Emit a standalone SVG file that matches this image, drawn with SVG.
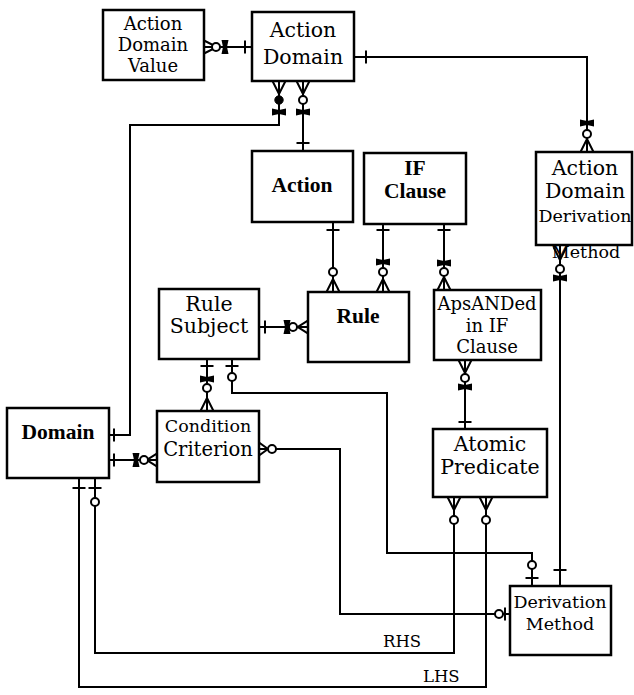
<svg xmlns="http://www.w3.org/2000/svg" xmlns:xlink="http://www.w3.org/1999/xlink" width="634" height="695" viewBox="0 0 634 695">
<style>
.box{fill:#fff;stroke:#000;stroke-width:2.5}
.ln{fill:none;stroke:#000;stroke-width:2}
.t{font-family:"DejaVu Serif","Liberation Serif",serif;font-size:20.5px;fill:#000;text-anchor:middle}
.s{font-size:17.5px}
.v{font-size:18px}
.b{font-family:"Liberation Serif",serif;font-weight:bold;font-size:21.5px;fill:#000;text-anchor:middle}
.lbl{font-family:"DejaVu Serif",serif;font-size:16.5px;fill:#000}
</style>
<defs>
<path id="crow" class="ln" d="M0,-6.5 L13,0 L0,6.5 M0,0 L13,0"/>
<path id="bar" class="ln" d="M0,-6.5 V6.5"/>
<circle id="circ" r="4" fill="#fff" stroke="#000" stroke-width="2"/>
<circle id="circf" r="4.2" fill="#000" stroke="#000" stroke-width="1"/>
<path id="bow" fill="#000" d="M-3.5,-7 L3.5,-7 L2,0 L3.5,7 L-3.5,7 L-2,0 Z"/>
</defs>

<g id="connectors">
<!-- ADV - AD -->
<path class="ln" d="M204,47 H252"/>
<use xlink:href="#crow" transform="translate(204,47)"/>
<use xlink:href="#circ" transform="translate(204,47) translate(12,0)"/>
<use xlink:href="#bow" transform="translate(204,47) translate(21,0)"/>
<use xlink:href="#bar" transform="translate(252,47) rotate(180) translate(7,0)"/>
<!-- AD - Action -->
<path class="ln" d="M303,81 V151"/>
<use xlink:href="#crow" transform="translate(303,81) rotate(90)"/>
<use xlink:href="#circ" transform="translate(303,81) rotate(90) translate(19,0)"/>
<use xlink:href="#bow" transform="translate(303,81) rotate(90) translate(31,0)"/>
<use xlink:href="#bar" transform="translate(303,151) rotate(270) translate(8,0)"/>
<!-- AD - Domain -->
<path class="ln" d="M279,81 V125 H130 V435 H109"/>
<use xlink:href="#crow" transform="translate(279,81) rotate(90)"/>
<use xlink:href="#circf" transform="translate(279,81) rotate(90) translate(19,0)"/>
<use xlink:href="#bow" transform="translate(279,81) rotate(90) translate(31,0)"/>
<use xlink:href="#bar" transform="translate(109,435) translate(5,0)"/>
<!-- AD - ADD -->
<path class="ln" d="M354,57 H587 V152"/>
<use xlink:href="#bar" transform="translate(354,57) translate(12,0)"/>
<use xlink:href="#crow" transform="translate(587,152) rotate(270)"/>
<use xlink:href="#circ" transform="translate(587,152) rotate(270) translate(18,0)"/>
<use xlink:href="#bow" transform="translate(587,152) rotate(270) translate(29,0)"/>
<!-- Action - Rule -->
<path class="ln" d="M333,222 V292"/>
<use xlink:href="#bar" transform="translate(333,222) rotate(90) translate(8,0)"/>
<use xlink:href="#crow" transform="translate(333,292) rotate(270)"/>
<use xlink:href="#circ" transform="translate(333,292) rotate(270) translate(20,0)"/>
<!-- IF - Rule -->
<path class="ln" d="M383,224 V292"/>
<use xlink:href="#bar" transform="translate(383,224) rotate(90) translate(6,0)"/>
<use xlink:href="#crow" transform="translate(383,292) rotate(270)"/>
<use xlink:href="#circ" transform="translate(383,292) rotate(270) translate(20,0)"/>
<use xlink:href="#bow" transform="translate(383,292) rotate(270) translate(30,0)"/>
<!-- IF - ApsANDed -->
<path class="ln" d="M444,224 V290"/>
<use xlink:href="#bar" transform="translate(444,224) rotate(90) translate(6,0)"/>
<use xlink:href="#crow" transform="translate(444,290) rotate(270)"/>
<use xlink:href="#circ" transform="translate(444,290) rotate(270) translate(18,0)"/>
<use xlink:href="#bow" transform="translate(444,290) rotate(270) translate(27,0)"/>
<!-- RS - Rule -->
<path class="ln" d="M259,327 H308"/>
<use xlink:href="#bar" transform="translate(259,327) translate(6,0)"/>
<use xlink:href="#crow" transform="translate(308,327) rotate(180) scale(0.8,1)"/>
<use xlink:href="#circ" transform="translate(308,327) rotate(180) translate(15,0)"/>
<use xlink:href="#bow" transform="translate(308,327) rotate(180) translate(21,0)"/>
<!-- RS - CC -->
<path class="ln" d="M207,359 V411"/>
<use xlink:href="#bar" transform="translate(207,359) rotate(90) translate(7,0)"/>
<use xlink:href="#crow" transform="translate(207,411) rotate(270)"/>
<use xlink:href="#circ" transform="translate(207,411) rotate(270) translate(23,0)"/>
<use xlink:href="#bow" transform="translate(207,411) rotate(270) translate(32,0)"/>
<!-- RS - DM -->
<path class="ln" d="M232,359 V393 H387 V553 H532 V586"/>
<use xlink:href="#bar" transform="translate(232,359) rotate(90) translate(7,0)"/>
<use xlink:href="#circ" transform="translate(232,359) rotate(90) translate(18,0)"/>
<use xlink:href="#bar" transform="translate(532,586) rotate(270) translate(8,0)"/>
<use xlink:href="#circ" transform="translate(532,586) rotate(270) translate(21,0)"/>
<!-- Domain - CC -->
<path class="ln" d="M109,460 H157"/>
<use xlink:href="#bar" transform="translate(109,460) translate(5,0)"/>
<use xlink:href="#crow" transform="translate(157,460) rotate(180) scale(0.8,1)"/>
<use xlink:href="#circ" transform="translate(157,460) rotate(180) translate(13,0)"/>
<use xlink:href="#bow" transform="translate(157,460) rotate(180) translate(21,0)"/>
<!-- CC - DM -->
<path class="ln" d="M259,449 H340 V614 H510"/>
<use xlink:href="#crow" transform="translate(259,449) scale(0.7,1)"/>
<use xlink:href="#circ" transform="translate(259,449) translate(13,0)"/>
<use xlink:href="#bar" transform="translate(510,614) rotate(180) translate(5,0)"/>
<use xlink:href="#circ" transform="translate(510,614) rotate(180) translate(11,0)"/>
<!-- ApsANDed - AP -->
<path class="ln" d="M465,360 V429"/>
<use xlink:href="#crow" transform="translate(465,360) rotate(90)"/>
<use xlink:href="#circ" transform="translate(465,360) rotate(90) translate(18,0)"/>
<use xlink:href="#bow" transform="translate(465,360) rotate(90) translate(27,0)"/>
<use xlink:href="#bar" transform="translate(465,429) rotate(270) translate(7,0)"/>
<!-- ADD - DM -->
<path class="ln" d="M560,245 V586"/>
<use xlink:href="#crow" transform="translate(560,247) rotate(90)"/>
<use xlink:href="#circ" transform="translate(560,245) rotate(90) translate(24,0)"/>
<use xlink:href="#bow" transform="translate(560,245) rotate(90) translate(33,0)"/>
<use xlink:href="#bar" transform="translate(560,586) rotate(270) translate(16,0)"/>
<!-- Domain - AP (RHS) -->
<path class="ln" d="M95,478 V653 H454 V497"/>
<use xlink:href="#bar" transform="translate(95,478) rotate(90) translate(10,0)"/>
<use xlink:href="#circ" transform="translate(95,478) rotate(90) translate(24,0)"/>
<use xlink:href="#crow" transform="translate(454,497) rotate(90)"/>
<use xlink:href="#circ" transform="translate(454,497) rotate(90) translate(23,0)"/>
<!-- Domain - AP (LHS) -->
<path class="ln" d="M79,478 V687 H486 V497"/>
<use xlink:href="#bar" transform="translate(79,478) rotate(90) translate(10,0)"/>
<use xlink:href="#crow" transform="translate(486,497) rotate(90)"/>
<use xlink:href="#circ" transform="translate(486,497) rotate(90) translate(23,0)"/>
<text class="lbl" x="383" y="647">RHS</text>
<text class="lbl" x="423" y="682">LHS</text>
</g>

<g id="action-domain-value">
<rect class="box" x="103" y="10" width="101" height="70"/>
<text class="t v" x="153" y="30">Action</text>
<text class="t v" x="153" y="51">Domain</text>
<text class="t v" x="153" y="72">Value</text>
</g>
<g id="action-domain">
<rect class="box" x="252" y="12" width="102" height="69"/>
<text class="t" x="303" y="37">Action</text>
<text class="t" x="303" y="64">Domain</text>
</g>
<g id="action">
<rect class="box" x="252" y="151" width="101" height="71"/>
<text class="b" x="302" y="192">Action</text>
</g>
<g id="if-clause">
<rect class="box" x="364" y="153" width="102" height="71"/>
<text class="b" x="415" y="175">IF</text>
<text class="b" x="415" y="198">Clause</text>
</g>
<g id="action-domain-derivation">
<rect class="box" x="536" y="152" width="96" height="93"/>
<text class="t" x="585" y="175">Action</text>
<text class="t" x="585" y="198">Domain</text>
<text class="t s" x="585" y="222">Derivation</text>
<text class="t s" x="586" y="258">Method</text>
</g>
<g id="rule-subject">
<rect class="box" x="159" y="289" width="100" height="70"/>
<text class="t" x="209" y="311">Rule</text>
<text class="t" x="209" y="333">Subject</text>
</g>
<g id="rule">
<rect class="box" x="308" y="292" width="101" height="70"/>
<text class="b" x="358" y="323">Rule</text>
</g>
<g id="apsanded-in-if-clause">
<rect class="box" x="434" y="290" width="107" height="70"/>
<text class="t" x="487" y="310" style="font-size:18px">ApsANDed</text>
<text class="t" x="487" y="332" style="font-size:18px">in IF</text>
<text class="t" x="487" y="353" style="font-size:18px">Clause</text>
</g>
<g id="domain">
<rect class="box" x="7" y="408" width="102" height="70"/>
<text class="b" x="58" y="439">Domain</text>
</g>
<g id="condition-criterion">
<rect class="box" x="157" y="411" width="102" height="71"/>
<text class="t" x="208" y="432" style="font-size:17.5px">Condition</text>
<text class="t" x="208" y="456" style="font-size:19.5px">Criterion</text>
</g>
<g id="atomic-predicate">
<rect class="box" x="433" y="429" width="114" height="68"/>
<text class="t" x="490" y="451">Atomic</text>
<text class="t" x="490" y="474">Predicate</text>
</g>
<g id="derivation-method">
<rect class="box" x="510" y="586" width="101" height="69"/>
<text class="t s" x="560" y="608">Derivation</text>
<text class="t s" x="560" y="630">Method</text>
</g>
</svg>
